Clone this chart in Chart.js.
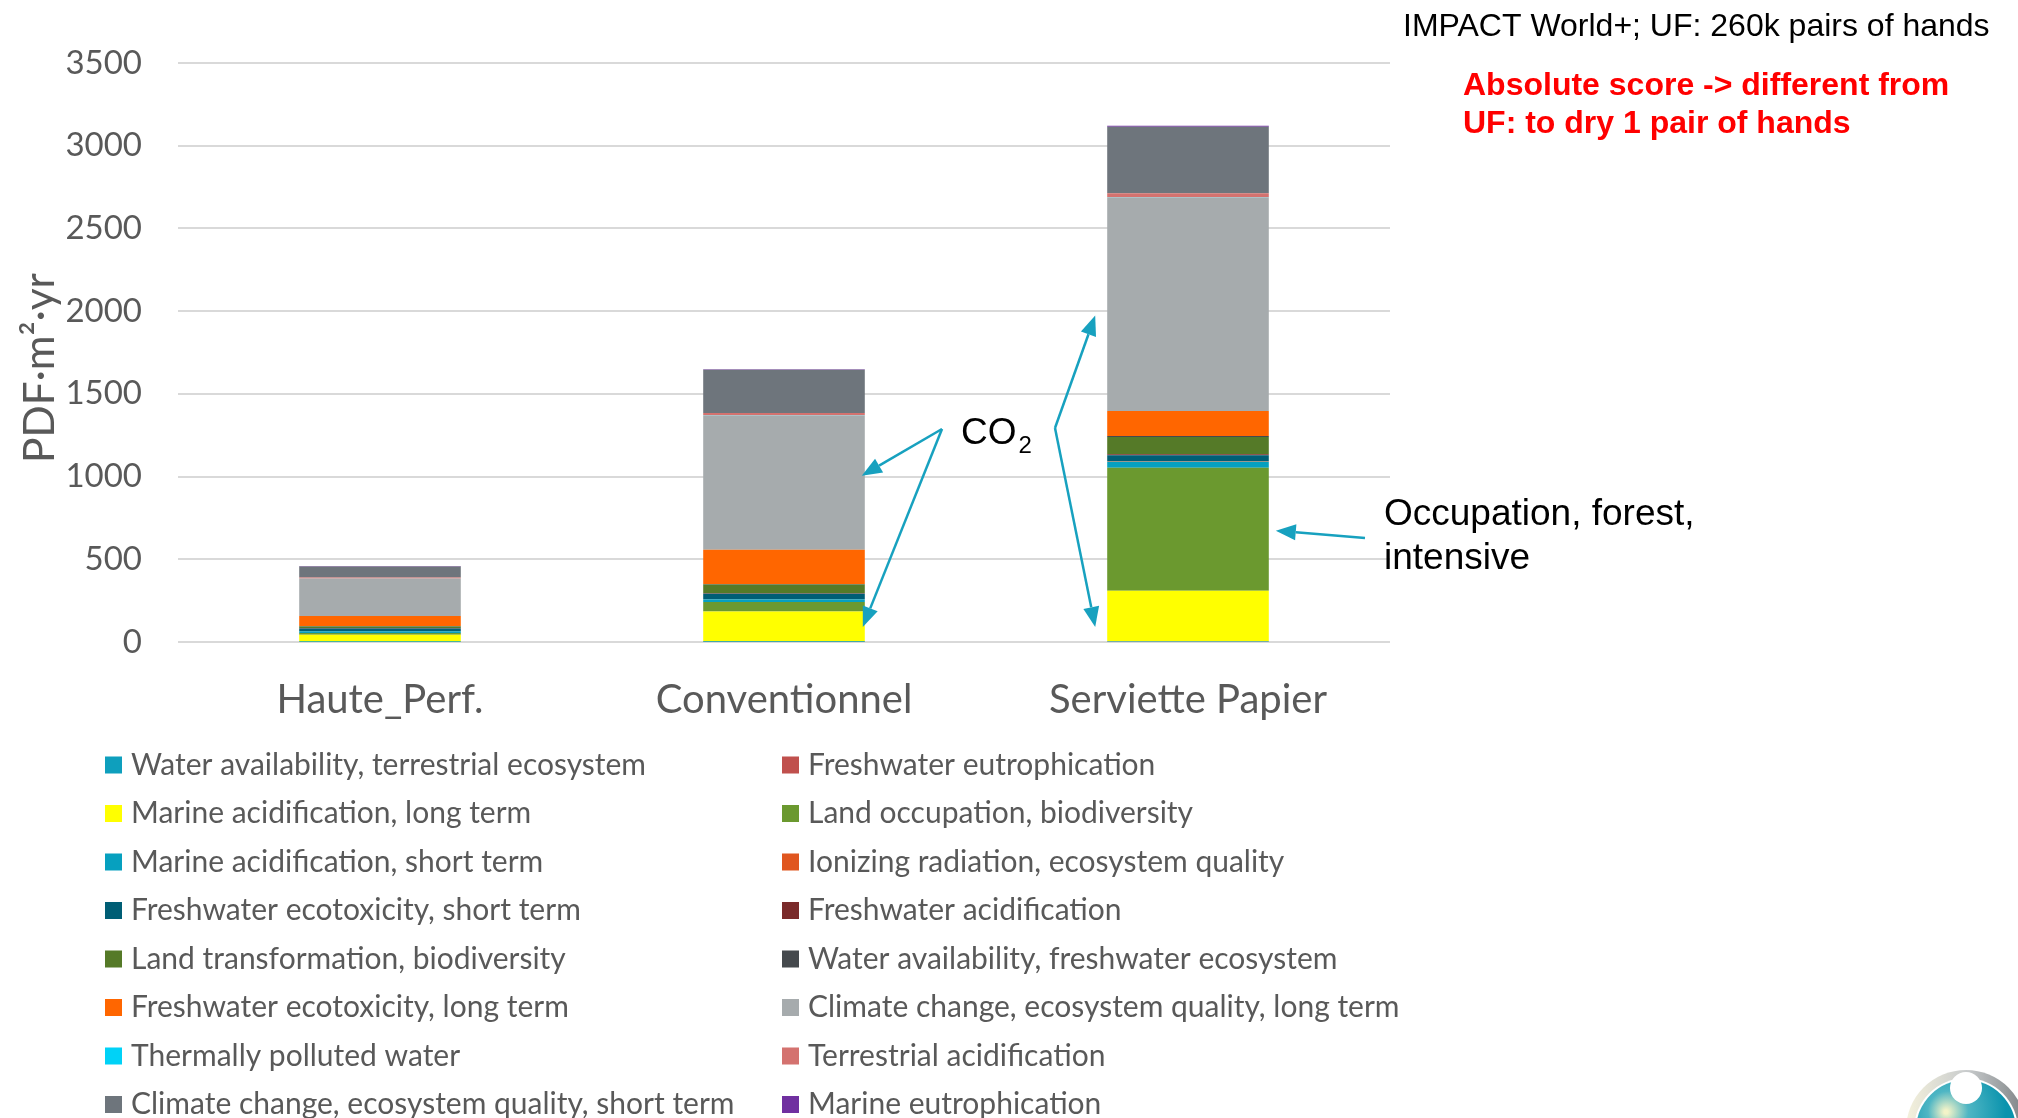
<!DOCTYPE html>
<html>
<head>
<meta charset="utf-8">
<script src="https://cdn.jsdelivr.net/npm/chart.js@4"></script>
<style>
  html, body { margin: 0; padding: 0; background: #fff; }
  #wrap { width: 2018px; height: 1118px; position: relative; }
</style>
</head>
<body>
<div id="wrap"><canvas id="chart-impact"></canvas></div>
<script>
const categories = ["Haute_Perf.", "Conventionnel", "Serviette Papier"];

// one array per impact category, values per product (PDF·m²·yr)
const waterTerrestrial = [1, 2, 3];
const freshwaterEutro = [0.5, 1, 2];
const marineAcidLong = [43, 182, 305];
const landOccupation = [10, 57, 743];
const marineAcidShort = [10, 17, 37];
const ionizingRadiation = [0.5, 1, 2];
const freshwaterEcotoxShort = [17, 32, 37];
const freshwaterAcid = [2, 3, 6];
const landTransformation = [10, 53, 104];
const waterFreshwater = [3, 3, 6];
const freshwaterEcotoxLong = [60, 207, 151];
const climateLong = [227, 811, 1291];
const thermallyPolluted = [0.5, 1, 1];
const terrestrialAcid = [5, 15, 25];
const climateShort = [67, 260, 402];
const marineEutro = [3, 4, 5];

const seriesNames = [
  "Water availability, terrestrial ecosystem",
  "Freshwater eutrophication",
  "Marine acidification, long term",
  "Land occupation, biodiversity",
  "Marine acidification, short term",
  "Ionizing radiation, ecosystem quality",
  "Freshwater ecotoxicity, short term",
  "Freshwater acidification",
  "Land transformation, biodiversity",
  "Water availability, freshwater ecosystem",
  "Freshwater ecotoxicity, long term",
  "Climate change, ecosystem quality, long term",
  "Thermally polluted water",
  "Terrestrial acidification",
  "Climate change, ecosystem quality, short term",
  "Marine eutrophication",
];
const seriesValues = [
  waterTerrestrial, freshwaterEutro, marineAcidLong, landOccupation,
  marineAcidShort, ionizingRadiation, freshwaterEcotoxShort, freshwaterAcid,
  landTransformation, waterFreshwater, freshwaterEcotoxLong, climateLong,
  thermallyPolluted, terrestrialAcid, climateShort, marineEutro,
];
const seriesColors = [
  "#0e9fbd", "#c0504d", "#ffff00", "#6b992f",
  "#06a0bf", "#e0561f", "#005e75", "#7a2a2a",
  "#557a28", "#45494d", "#ff6600", "#a6abad",
  "#00d2f7", "#d4726f", "#6e757c", "#7030a0",
];

const yTicks = { min: 0, max: 3500, step: 500 };
const yTitle = "PDF·m²·yr";

// 2-column legend, row-major like the Excel one
const twoColumnLegend = {
  id: "twoColumnLegend",
  afterDraw(chart) {
    const ctx = chart.ctx;
    ctx.save();
    ctx.font = "30px Lato";
    ctx.textBaseline = "middle";
    chart.data.datasets.forEach((ds, i) => {
      const col = i % 2;
      const row = Math.floor(i / 2);
      const bx = col ? 782 : 105;
      const y = 765 + row * 48.5;
      ctx.fillStyle = ds.backgroundColor;
      ctx.fillRect(bx, y - 8.5, 17, 17);
      ctx.fillStyle = "#595959";
      ctx.fillText(ds.label, bx + 26, y);
    });
    ctx.restore();
  },
};

function arrow(ctx, x1, y1, x2, y2) {
  const ang = Math.atan2(y2 - y1, x2 - x1);
  const len = 20, half = 8;
  const bx = x2 - len * Math.cos(ang), by = y2 - len * Math.sin(ang);
  ctx.beginPath();
  ctx.moveTo(x1, y1);
  ctx.lineTo(bx, by);
  ctx.stroke();
  ctx.beginPath();
  ctx.moveTo(x2, y2);
  ctx.lineTo(bx + half * Math.sin(ang), by - half * Math.cos(ang));
  ctx.lineTo(bx - half * Math.sin(ang), by + half * Math.cos(ang));
  ctx.closePath();
  ctx.fill();
}

const annotations = {
  id: "annotations",
  afterDraw(chart) {
    const ctx = chart.ctx;
    const y = chart.scales.y;
    const bars = chart.getDatasetMeta(0).data;
    const edge = (i, side) => bars[i].x + side * bars[i].width / 2;
    ctx.save();

    // y axis title, placed like the Excel one
    ctx.fillStyle = "#595959";
    ctx.font = "40px Lato";
    const tw = ctx.measureText(yTitle).width;
    ctx.font = (40 * 190 / tw).toFixed(1) + "px Lato";
    ctx.translate(40, 368);
    ctx.rotate(-Math.PI / 2);
    ctx.textAlign = "center";
    ctx.textBaseline = "middle";
    ctx.fillText(yTitle, 0, 0);
    ctx.setTransform(1, 0, 0, 1, 0, 0);
    ctx.textAlign = "left";

    ctx.strokeStyle = "#17a1bf";
    ctx.fillStyle = "#17a1bf";
    ctx.lineWidth = 2.5;
    arrow(ctx, 942, 429, edge(1, 1) - 3, y.getPixelForValue(1005));
    arrow(ctx, 942, 429, edge(1, 1) - 2, y.getPixelForValue(91));
    arrow(ctx, 1055, 428, edge(2, -1) - 12, y.getPixelForValue(1974));
    arrow(ctx, 1055, 428, edge(2, -1) - 12, y.getPixelForValue(91));
    arrow(ctx, 1365, 538, edge(2, 1) + 7, y.getPixelForValue(673));

    ctx.fillStyle = "#000";
    ctx.textBaseline = "alphabetic";
    ctx.font = "37px 'Liberation Sans'";
    ctx.fillText("CO", 961, 444);
    const w = ctx.measureText("CO").width;
    ctx.font = "24px 'Liberation Sans'";
    ctx.fillText("2", 961 + w + 2, 453);
    ctx.font = "37px 'Liberation Sans'";
    ctx.fillText("Occupation, forest,", 1384, 525);
    ctx.fillText("intensive", 1384, 569);

    ctx.font = "32px 'Liberation Sans'";
    ctx.textBaseline = "middle";
    ctx.fillText("IMPACT World+; UF: 260k pairs of hands", 1403, 27);
    ctx.fillStyle = "#ff0000";
    ctx.font = "bold 32px 'Liberation Sans'";
    ctx.fillText("Absolute score -> different from", 1463, 86);
    ctx.fillText("UF: to dry 1 pair of hands", 1463, 124);

    // logo corner
    const cx = 1966, cy = 1130;
    const ring = ctx.createLinearGradient(cx - 60, 0, cx + 60, 0);
    ring.addColorStop(0, "#f4f1dc");
    ring.addColorStop(0.5, "#c9cccd");
    ring.addColorStop(1, "#7d8285");
    ctx.fillStyle = ring;
    ctx.beginPath(); ctx.arc(cx, cy, 60, 0, Math.PI * 2); ctx.fill();
    ctx.fillStyle = "#fff";
    ctx.beginPath(); ctx.arc(cx, cy, 52, 0, Math.PI * 2); ctx.fill();
    const ball = ctx.createRadialGradient(1946, 1112, 2, 1952, 1110, 54);
    ball.addColorStop(0, "#f3f3c8");
    ball.addColorStop(0.35, "#4fb6c4");
    ball.addColorStop(1, "#0a93ad");
    ctx.fillStyle = ball;
    ctx.beginPath(); ctx.arc(cx, cy, 50, 0, Math.PI * 2); ctx.fill();
    ctx.fillStyle = "#fff";
    ctx.beginPath(); ctx.arc(1966, 1088, 16, 0, Math.PI * 2); ctx.fill();
    ctx.restore();
  },
};

new Chart(document.getElementById("chart-impact"), {
  type: "bar",
  data: {
    labels: categories,
    datasets: seriesNames.map((name, i) => ({
      label: name,
      data: seriesValues[i],
      backgroundColor: seriesColors[i],
      borderWidth: 0,
      categoryPercentage: 1,
      barPercentage: 0.4,
    })),
  },
  options: {
    responsive: true,
    maintainAspectRatio: false,
    animation: false,
    layout: { padding: { left: 0, right: 628, top: 63, bottom: 376 } },
    plugins: {
      legend: { display: false },
      tooltip: { enabled: false },
    },
    scales: {
      x: {
        stacked: true,
        grid: { display: false },
        border: { display: false },
        ticks: {
          color: "#595959",
          font: { family: "Lato", size: 40 },
          padding: 26,
          maxRotation: 0,
        },
        afterFit: (s) => { s.height = 100; },
      },
      y: {
        stacked: true,
        min: yTicks.min,
        max: yTicks.max,
        ticks: {
          stepSize: yTicks.step,
          color: "#595959",
          font: { family: "Lato", size: 33 },
          padding: 36,
          callback: (v) => String(v),
        },
        grid: { color: "#d9d9d9", lineWidth: 2, drawTicks: false },
        border: { display: false },
        afterFit: (s) => { s.width = 178; },
      },
    },
  },
  plugins: [twoColumnLegend, annotations],
});
</script>
</body>
</html>
